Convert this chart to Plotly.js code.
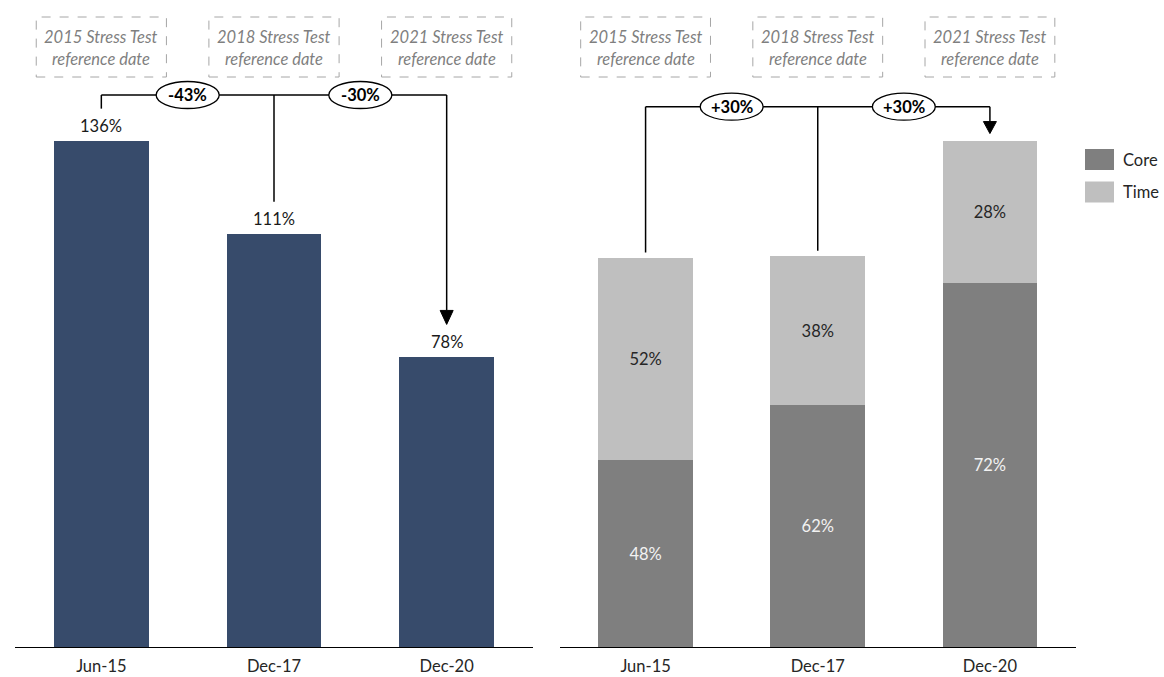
<!DOCTYPE html>
<html>
<head>
<meta charset="utf-8">
<script src="https://cdn.plot.ly/plotly-3.0.1.min.js"></script>
<style>html,body{margin:0;padding:0;background:#fff;}#chart{width:1164px;height:677px;}</style>
</head>
<body>
<div id="chart"></div>
<script>
// ---- data ----
const categories = ['Jun-15', 'Dec-17', 'Dec-20'];
const ratioValues = [136, 111, 78];
const ratioLabels = ['136%', '111%', '78%'];
const rightTotals = [104.5, 105, 136];
const coreShare = [48, 62, 72];
const timeShare = [52, 38, 28];
const leftChanges = ['-43%', '-30%'];
const rightChanges = ['+30%', '+30%'];
const boxTitles = ['2015 Stress Test', '2018 Stress Test', '2021 Stress Test'];
const boxSubtitle = 'reference date';
const seriesNames = ['Core', 'Time'];

// ---- styling / layout helpers ----
const W = 1164, H = 677, BASE = 647;
const YMAX = 173.9;
const FONT = 'Lato, "Open Sans", sans-serif';
const NAVY = '#374B6B', CORE = '#7F7F7F', TIME = '#BFBFBF';
const FS = 16.5;
const D = py => (BASE - py) / BASE * YMAX;   // pixel row -> data y
const P = py => (BASE - py) / BASE;          // pixel row -> paper y
const CAT = 172.5;                           // px per category

const coreVals = rightTotals.map((t, i) => t * coreShare[i] / 100);
const timeVals = rightTotals.map((t, i) => t * timeShare[i] / 100);

const traces = [
  {type: 'bar', x: categories, y: ratioValues, xaxis: 'x', yaxis: 'y', width: 0.55,
   marker: {color: NAVY}, hoverinfo: 'x+y', showlegend: false},
  {type: 'bar', name: seriesNames[0], x: categories, y: coreVals, xaxis: 'x2', yaxis: 'y2', width: 0.55,
   marker: {color: CORE}, text: coreShare.map(v => v + '%'), textposition: 'inside',
   insidetextanchor: 'middle', textfont: {family: FONT, size: FS, color: '#F2F2F2'},
   textangle: 0, showlegend: false},
  {type: 'bar', name: seriesNames[1], x: categories, y: timeVals, xaxis: 'x2', yaxis: 'y2', width: 0.55,
   marker: {color: TIME}, text: timeShare.map(v => v + '%'), textposition: 'inside',
   insidetextanchor: 'middle', textfont: {family: FONT, size: FS, color: '#262626'},
   textangle: 0, showlegend: false}
];

const shapes = [];
const annotations = [];

// value labels above left bars
ratioValues.forEach((v, i) => {
  annotations.push({xref: 'x', yref: 'y', x: i, y: v, yshift: 15, yanchor: 'middle',
    text: ratioLabels[i], showarrow: false, font: {family: FONT, size: FS, color: '#1a1a1a'}});
});

// dashed reference-date boxes
['x', 'x2'].forEach(xr => {
  boxTitles.forEach((t, i) => {
    shapes.push({type: 'rect', xref: xr, yref: 'paper', x0: i - 0.377, x1: i + 0.377,
      y0: P(77), y1: P(17), line: {color: '#A6A6A6', width: 1, dash: 'dash'}, fillcolor: 'rgba(0,0,0,0)'});
    annotations.push({xref: xr, yref: 'paper', x: i, y: P(37), yanchor: 'middle', showarrow: false,
      text: '<i>' + t + '</i>', font: {family: FONT, size: 16.5, color: '#7F7F7F'}});
    annotations.push({xref: xr, yref: 'paper', x: i, y: P(59), yanchor: 'middle', showarrow: false,
      text: '<i>' + boxSubtitle + '</i>', font: {family: FONT, size: 16.5, color: '#7F7F7F'}});
  });
});

function bracket(xr, yr, topPx, ends, arrowH, changes) {
  const yTop = D(topPx);
  const ln = {color: '#000', width: 1.5};
  shapes.push({type: 'line', xref: xr, yref: yr, x0: 0, x1: 2, y0: yTop, y1: yTop, line: ln});
  const aH = arrowH / 647 * YMAX, aW = 6.5 / CAT;
  ends.forEach((e, i) => {
    const isArrow = i === ends.length - 1;
    shapes.push({type: 'line', xref: xr, yref: yr, x0: i, x1: i, y0: yTop, y1: isArrow ? e + aH : e, line: ln});
    if (isArrow) {
      shapes.push({type: 'path', xref: xr, yref: yr,
        path: `M ${i - aW},${e + aH} L ${i + aW},${e + aH} L ${i},${e} Z`,
        fillcolor: '#000', line: {color: '#000', width: 1}});
    }
  });
  const hw = 31.5 / CAT, hh = 13.5 / 647 * YMAX;
  changes.forEach((c, k) => {
    const xc = k + 0.5;
    shapes.push({type: 'circle', xref: xr, yref: yr, x0: xc - hw, x1: xc + hw, y0: yTop - hh, y1: yTop + hh,
      fillcolor: '#fff', line: {color: '#000', width: 1.3}});
    annotations.push({xref: xr, yref: yr, x: xc, y: yTop, yanchor: 'middle', showarrow: false,
      text: '<b>' + c + '</b>', font: {family: FONT, size: 16.5, color: '#000'}});
  });
}
bracket('x', 'y', 95, ratioValues.map(v => v + 8.7), 14, leftChanges);
bracket('x2', 'y2', 106.7, rightTotals.map((v, i) => v + (i === 2 ? 2.0 : 1.5)), 12, rightChanges);

// custom legend
const legendColors = [CORE, TIME];
const legendRows = [[149, 170], [181.5, 202.5]];
seriesNames.forEach((n, k) => {
  const [a, b] = legendRows[k];
  shapes.push({type: 'rect', xref: 'paper', yref: 'paper', x0: 1085 / W, x1: 1114 / W, y0: P(b), y1: P(a),
    fillcolor: legendColors[k], line: {color: legendColors[k], width: 0}});
  annotations.push({xref: 'paper', yref: 'paper', x: 1121 / W, y: P((a + b) / 2), xanchor: 'left', yanchor: 'middle',
    showarrow: false, text: n, font: {family: FONT, size: FS, color: '#262626'}});
});

const xaxisBase = {type: 'category', showgrid: false, zeroline: false, ticks: '', showline: true,
  linecolor: '#000', linewidth: 1.3, ticklabelstandoff: 4,
  tickfont: {family: FONT, size: FS, color: '#262626'}, fixedrange: true};
const yaxisBase = {range: [0, YMAX], visible: false, showgrid: false, zeroline: false, fixedrange: true};

const layout = {
  width: W, height: H,
  margin: {l: 0, r: 0, t: 0, b: 30, pad: 0},
  paper_bgcolor: '#fff', plot_bgcolor: '#fff',
  barmode: 'stack', showlegend: false,
  font: {family: FONT, size: FS, color: '#262626'},
  xaxis: Object.assign({}, xaxisBase, {domain: [15 / W, 533 / W], anchor: 'y'}),
  xaxis2: Object.assign({}, xaxisBase, {domain: [559.5 / W, 1076 / W], anchor: 'y2'}),
  yaxis: Object.assign({}, yaxisBase, {anchor: 'x'}),
  yaxis2: Object.assign({}, yaxisBase, {anchor: 'x2'}),
  shapes: shapes,
  annotations: annotations
};

Plotly.newPlot('chart', traces, layout, {displayModeBar: false, staticPlot: true});
</script>
</body>
</html>
